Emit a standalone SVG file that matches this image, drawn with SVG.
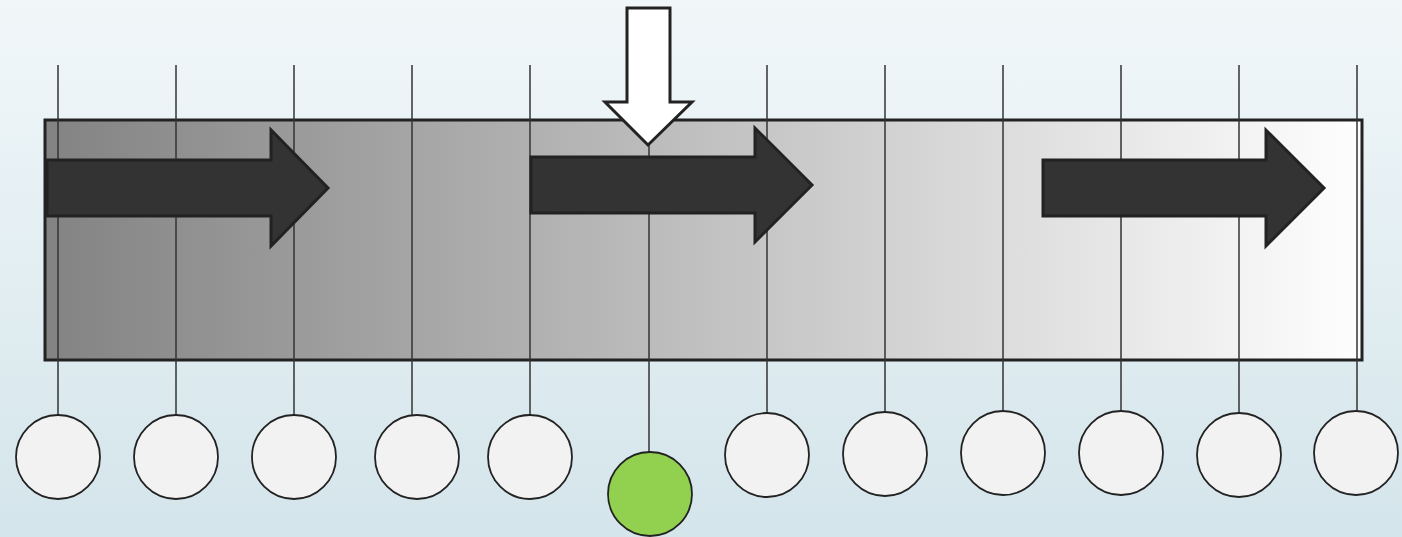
<svg xmlns="http://www.w3.org/2000/svg" width="1402" height="537" viewBox="0 0 1402 537">
<defs>
<linearGradient id="bg" x1="0" y1="0" x2="0" y2="1"><stop offset="0" stop-color="#f1f7f9"/><stop offset="1" stop-color="#d4e5eb"/></linearGradient>
<linearGradient id="bar" x1="0" y1="0" x2="1" y2="0"><stop offset="0" stop-color="#838383"/><stop offset="1" stop-color="#fefefe"/></linearGradient>
<style>
.ln{stroke:#333;stroke-width:1.5;fill:none}
.arr{fill:#333;stroke:#222;stroke-width:3;stroke-linejoin:miter}
.c{fill:#f2f2f2;stroke:#222;stroke-width:1.8}
</style>
</defs>
<rect width="1402" height="537" fill="url(#bg)"/>
<g id="bar-node"><rect x="45" y="120" width="1317" height="240" fill="url(#bar)" stroke="#222" stroke-width="3"/></g>
<g id="connectors">
<line class="ln" x1="58" y1="65" x2="58" y2="415"/>
<line class="ln" x1="176" y1="65" x2="176" y2="415"/>
<line class="ln" x1="294" y1="65" x2="294" y2="415"/>
<line class="ln" x1="412" y1="65" x2="412" y2="415"/>
<line class="ln" x1="530" y1="65" x2="530" y2="415"/>
<line class="ln" x1="649" y1="65" x2="649" y2="452"/>
<line class="ln" x1="767" y1="65" x2="767" y2="413"/>
<line class="ln" x1="885" y1="65" x2="885" y2="412"/>
<line class="ln" x1="1003" y1="65" x2="1003" y2="411"/>
<line class="ln" x1="1121" y1="65" x2="1121" y2="411"/>
<line class="ln" x1="1239" y1="65" x2="1239" y2="413"/>
<line class="ln" x1="1357" y1="65" x2="1357" y2="411"/>
</g>
<g id="arrow1"><polygon class="arr" points="47,160 271,160 271,130 328,188 271,246 271,216 47,216"/></g>
<g id="arrow2"><polygon class="arr" points="531,157 755,157 755,128 812,185 755,242 755,213 531,213"/></g>
<g id="arrow3"><polygon class="arr" points="1043,160 1266,160 1266,130 1324,188 1266,246 1266,216 1043,216"/></g>
<g id="top-arrow"><polygon points="627,8 670,8 670,102 692,102 648,145 605,102 627,102" fill="#fff" stroke="#222" stroke-width="3"/></g>
<g id="circle1"><circle class="c" cx="58" cy="457" r="42"/></g>
<g id="circle2"><circle class="c" cx="176" cy="457" r="42"/></g>
<g id="circle3"><circle class="c" cx="294" cy="457" r="42"/></g>
<g id="circle4"><circle class="c" cx="417" cy="457" r="42"/></g>
<g id="circle5"><circle class="c" cx="530" cy="457" r="42"/></g>
<g id="circle6"><circle cx="650" cy="494" r="42" fill="#92d050" stroke="#222" stroke-width="1.8"/></g>
<g id="circle7"><circle class="c" cx="767" cy="455" r="42"/></g>
<g id="circle8"><circle class="c" cx="885" cy="454" r="42"/></g>
<g id="circle9"><circle class="c" cx="1003" cy="453" r="42"/></g>
<g id="circle10"><circle class="c" cx="1121" cy="453" r="42"/></g>
<g id="circle11"><circle class="c" cx="1239" cy="455" r="42"/></g>
<g id="circle12"><circle class="c" cx="1356" cy="453" r="42"/></g>
</svg>
